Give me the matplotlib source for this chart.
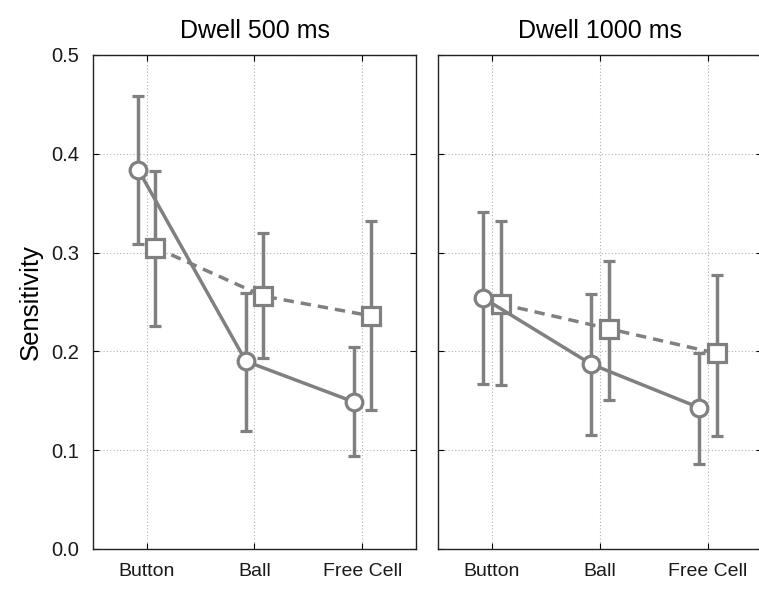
import matplotlib
matplotlib.use("Agg")
import matplotlib.pyplot as plt

plt.rcParams['font.family'] = ['Liberation Sans', 'DejaVu Sans']

categories = ["Button", "Ball", "Free Cell"]
panels = ["Dwell 500 ms", "Dwell 1000 ms"]

# circles (solid line)
circ_mean = [[0.384, 0.190, 0.149], [0.254, 0.187, 0.143]]
circ_lo = [[0.309, 0.119, 0.094], [0.167, 0.115, 0.086]]
circ_hi = [[0.459, 0.259, 0.204], [0.341, 0.258, 0.198]]

# squares (dashed line)
sq_mean = [[0.305, 0.256, 0.236], [0.248, 0.223, 0.198]]
sq_lo = [[0.226, 0.193, 0.141], [0.166, 0.151, 0.114]]
sq_hi = [[0.383, 0.320, 0.332], [0.332, 0.292, 0.277]]

gray = "#808080"

fig = plt.figure(figsize=(7.59, 5.90), dpi=100)
ax1 = fig.add_axes([93/759, 41/590, 323/759, 494/590])
ax2 = fig.add_axes([438/759, 41/590, 324/759, 494/590], sharey=ax1)

x = list(range(len(categories)))
for i, ax in enumerate([ax1, ax2]):
    ax.grid(True, linestyle=(0, (1, 2)), color="#b0b0b0", linewidth=0.8)
    ax.set_axisbelow(True)

    xs = [v + 0.08 for v in x]
    err = [[m - l for m, l in zip(sq_mean[i], sq_lo[i])],
           [h - m for m, h in zip(sq_mean[i], sq_hi[i])]]
    ax.errorbar(xs, sq_mean[i], yerr=err, color=gray, lw=2.5, dashes=(3.0, 2.0),
                marker="s", ms=12.5, mfc="white", mec=gray, mew=2.3,
                elinewidth=2.5, capsize=4, capthick=2.5)

    xc = [v - 0.08 for v in x]
    err = [[m - l for m, l in zip(circ_mean[i], circ_lo[i])],
           [h - m for m, h in zip(circ_mean[i], circ_hi[i])]]
    ax.errorbar(xc, circ_mean[i], yerr=err, color=gray, lw=2.5, ls="-",
                marker="o", ms=12, mfc="white", mec=gray, mew=2.3,
                elinewidth=2.5, capsize=4, capthick=2.5)

    ax.set_xlim(-0.5, 2.5)
    ax.set_ylim(0, 0.5)
    ax.set_xticks(x)
    ax.set_xticklabels(categories, fontsize=14, color="#1a1a1a")
    ax.set_yticks([0, 0.1, 0.2, 0.3, 0.4, 0.5])
    ax.tick_params(direction="in", length=4, top=True, right=True, pad=10)
    ax.set_title(panels[i], fontsize=18, pad=12)
    for s in ax.spines.values():
        s.set_linewidth(1.0)
        s.set_color("#222222")

ax1.set_yticklabels(["0.0", "0.1", "0.2", "0.3", "0.4", "0.5"], fontsize=14.5,
                    color="#1a1a1a")
ax1.tick_params(axis="y", pad=10)
ax2.tick_params(axis="y", labelleft=False)
ax1.set_ylabel("Sensitivity", fontsize=18.5, labelpad=6)

fig.savefig("out.png", dpi=100)
